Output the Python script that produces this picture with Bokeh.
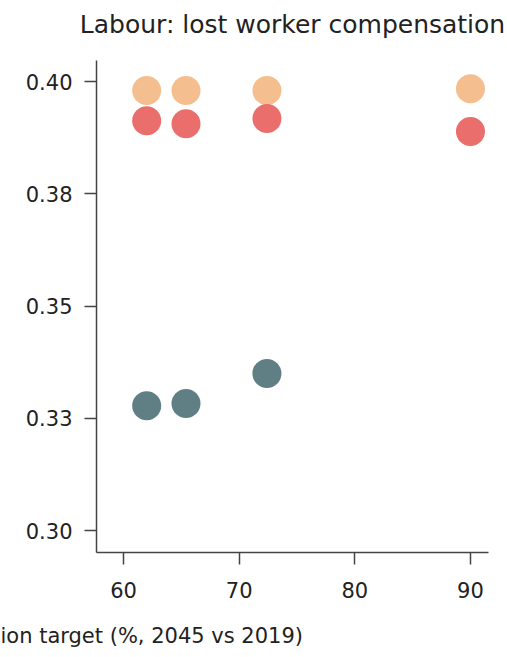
from bokeh.plotting import figure
from bokeh.models import ColumnDataSource, FixedTicker, Title
from bokeh.embed import file_html
from bokeh.resources import INLINE

# reduction target (%) and lost worker compensation per scenario group
targets = [62.0, 65.4, 72.4, 90.0]
upper = [0.3980, 0.3980, 0.3980, 0.3984]
middle = [0.3913, 0.3906, 0.3918, 0.3889]
lower = [0.3278, 0.3283, 0.3350]

y_ticks = [0.300, 0.325, 0.350, 0.375, 0.400]
y_tick_labels = ["0.30", "0.33", "0.35", "0.38", "0.40"]
x_ticks = [60, 70, 80, 90]

FONT = "DejaVu Sans"
INK = "#222222"

p = figure(
    width=507, height=652,
    frame_width=392, frame_height=492,
    x_range=(57.66, 91.56), y_range=(0.2951, 0.4047),
    output_backend="svg", toolbar_location=None,
    min_border_left=96, min_border_right=19,
    min_border_top=60, min_border_bottom=100,
)
p.outline_line_color = None
p.grid.visible = False


def spacer(gap):
    # near-empty title used only to push the next title away from the frame
    return Title(text=" ", text_font_size="1px", standoff=gap)


p.add_layout(spacer(18), "above")
p.add_layout(Title(text="Labour: lost worker compensation", align="center",
                   text_font=FONT, text_font_size="25px", text_font_style="normal",
                   text_color=INK, standoff=2), "above")

for ax in (p.xaxis, p.yaxis):
    ax.axis_line_color = "#444444"
    ax.axis_line_width = 1.5
    ax.major_tick_line_color = "#444444"
    ax.major_tick_line_width = 1.5
    ax.major_tick_out = 12
    ax.major_tick_in = 0
    ax.minor_tick_line_color = None
    ax.major_label_text_font = FONT
    ax.major_label_text_font_size = "21px"
    ax.major_label_text_color = INK

p.yaxis.major_label_standoff = 12
p.xaxis.major_label_standoff = 17

p.yaxis.ticker = FixedTicker(ticks=y_ticks)
p.yaxis.major_label_overrides = {t: s for t, s in zip(y_ticks, y_tick_labels)}
p.xaxis.ticker = FixedTicker(ticks=x_ticks)

src_up = ColumnDataSource(dict(x=targets, y=upper))
src_mid = ColumnDataSource(dict(x=targets, y=middle))
src_low = ColumnDataSource(dict(x=targets[:3], y=lower))

p.scatter("x", "y", source=src_up, size=29, fill_color="#F5BE8E", line_color=None)
p.scatter("x", "y", source=src_mid, size=29, fill_color="#EA6E6C", line_color=None)
p.scatter("x", "y", source=src_low, size=29, fill_color="#5F7F84", line_color=None)

p.add_layout(spacer(17), "below")
p.add_layout(Title(text="ion target (%, 2045 vs 2019)", align="left", offset=-96,
                   text_font=FONT, text_font_size="21px", text_font_style="normal",
                   text_color=INK, standoff=2), "below")

open("out.html", "w").write(file_html(p, INLINE))
